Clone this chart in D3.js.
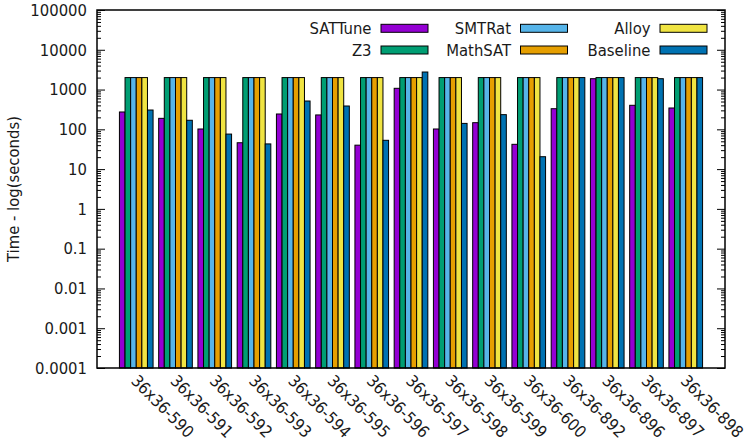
<!DOCTYPE html>
<html>
<head>
<meta charset="utf-8">
<script src="https://cdn.jsdelivr.net/npm/d3@7"></script>
<style>
  html, body { margin: 0; padding: 0; background: #fff; }
  svg text { font-family: "DejaVu Sans Condensed", "DejaVu Sans", sans-serif; font-stretch: condensed; fill: #1a1a1a; }
</style>
</head>
<body>
<div id="chart"></div>
<script>
// instances on the x axis
const instances = ['36x36-590', '36x36-591', '36x36-592', '36x36-593', '36x36-594',
    '36x36-595', '36x36-596', '36x36-597', '36x36-598', '36x36-599', '36x36-600',
    '36x36-892', '36x36-896', '36x36-897', '36x36-898'];

const solvers = ['SATTune', 'Z3', 'SMTRat', 'MathSAT', 'Alloy', 'Baseline'];
const colors = ['#9400d3', '#009e73', '#56b4e9', '#e69f00', '#f0e442', '#0072b2'];

// times in seconds (2000 = timeout)
const sattune  = [273, 189, 102, 46, 243, 230, 40, 1075, 102, 147, 42, 330, 1875, 402, 344];
const z3       = [2000, 2000, 2000, 2000, 2000, 2000, 2000, 2000, 2000, 2000, 2000, 2000, 2000, 2000, 2000];
const smtrat   = [2000, 2000, 2000, 2000, 2000, 2000, 2000, 2000, 2000, 2000, 2000, 2000, 2000, 2000, 2000];
const mathsat  = [2000, 2000, 2000, 2000, 2000, 2000, 2000, 2000, 2000, 2000, 2000, 2000, 2000, 2000, 2000];
const alloy    = [2000, 2000, 2000, 2000, 2000, 2000, 2000, 2000, 2000, 2000, 2000, 2000, 2000, 2000, 2000];
const baseline = [306, 169, 76, 43, 515, 386, 53, 2760, 141, 234, 20.5, 2000, 2000, 1875, 2000];

const series = [sattune, z3, smtrat, mathsat, alloy, baseline];

const yTicks = [0.0001, 0.001, 0.01, 0.1, 1, 10, 100, 1000, 10000, 100000];
const yTickLabels = ['0.0001', '0.001', '0.01', '0.1', '1', '10', '100', '1000', '10000', '100000'];

const W = 746, H = 438;
const plot = { left: 97, right: 725, top: 10, bottom: 368 };
const fontSize = '16.5px';

const svg = d3.select('#chart').append('svg')
    .attr('width', W)
    .attr('height', H);

const step = (plot.right - plot.left) / 16;
const x = d3.scaleBand()
    .domain(instances)
    .range([plot.left + step / 2, plot.right - step / 2])
    .paddingInner(1 / 7)
    .paddingOuter(1 / 14);

const xSub = d3.scaleBand()
    .domain(solvers)
    .range([0, x.bandwidth()]);

const y = d3.scaleLog()
    .domain([1e-4, 1e5])
    .range([plot.bottom, plot.top]);

// bars
const bars = instances.flatMap((inst, i) =>
    solvers.map((s, j) => ({ inst, solver: s, value: series[j][i], color: colors[j] })));

svg.append('g').selectAll('rect')
    .data(bars)
    .enter()
    .append('rect')
    .attr('x', d => x(d.inst) + xSub(d.solver))
    .attr('y', d => y(d.value))
    .attr('width', xSub.bandwidth())
    .attr('height', d => plot.bottom - y(d.value))
    .style('fill', d => d.color)
    .style('stroke', '#000')
    .style('stroke-width', 1);

// minor ticks (2..9 each decade)
const minors = [];
yTicks.slice(0, -1).forEach(t => { for (let k = 2; k < 10; k++) minors.push(t * k); });

svg.append('g')
    .attr('transform', `translate(${plot.left},0)`)
    .call(d3.axisLeft(y).tickValues(minors).tickSizeInner(-4).tickSizeOuter(0).tickFormat(''))
    .call(g => g.select('.domain').remove());
svg.append('g')
    .attr('transform', `translate(${plot.right},0)`)
    .call(d3.axisRight(y).tickValues(minors).tickSizeInner(-4).tickSizeOuter(0).tickFormat(''))
    .call(g => g.select('.domain').remove());

// major ticks
svg.append('g')
    .attr('transform', `translate(${plot.left},0)`)
    .call(d3.axisLeft(y).tickValues(yTicks).tickSizeInner(-8).tickSizeOuter(0).tickPadding(10)
        .tickFormat((d, i) => yTickLabels[i]))
    .call(g => g.select('.domain').remove())
    .call(g => g.selectAll('text').style('font-size', fontSize).style('font-family', null));
svg.append('g')
    .attr('transform', `translate(${plot.right},0)`)
    .call(d3.axisRight(y).tickValues(yTicks).tickSizeInner(-8).tickSizeOuter(0).tickFormat(''))
    .call(g => g.select('.domain').remove());

// x labels, rotated
svg.append('g').selectAll('text')
    .data(instances)
    .enter()
    .append('text')
    .attr('transform', d => `translate(${x(d) + x.bandwidth() / 2 - 2},${plot.bottom + 10}) rotate(45)`)
    .attr('dy', '0.35em')
    .style('font-size', fontSize)
    .text(d => d);

// border
svg.append('rect')
    .attr('x', plot.left)
    .attr('y', plot.top)
    .attr('width', plot.right - plot.left)
    .attr('height', plot.bottom - plot.top)
    .style('fill', 'none')
    .style('stroke', '#000')
    .style('stroke-width', 1.5);

// y label
svg.append('text')
    .attr('transform', `translate(19,${(plot.top + plot.bottom) / 2}) rotate(-90)`)
    .attr('text-anchor', 'middle')
    .style('font-size', fontSize)
    .text('Time - log(seconds)');

// legend: 2 rows, filled column by column
const legend = svg.append('g').selectAll('g')
    .data(solvers)
    .enter()
    .append('g')
    .attr('transform', (d, i) => `translate(${381 + Math.floor(i / 2) * 139.5},${24.3 + (i % 2) * 21.7})`);

legend.append('rect')
    .attr('width', 47)
    .attr('height', 8)
    .style('fill', (d, i) => colors[i])
    .style('stroke', '#000')
    .style('stroke-width', 1);

legend.append('text')
    .attr('x', -9.5)
    .attr('y', 4)
    .attr('dy', '0.36em')
    .attr('text-anchor', 'end')
    .style('font-size', fontSize)
    .text(d => d);
</script>
</body>
</html>
